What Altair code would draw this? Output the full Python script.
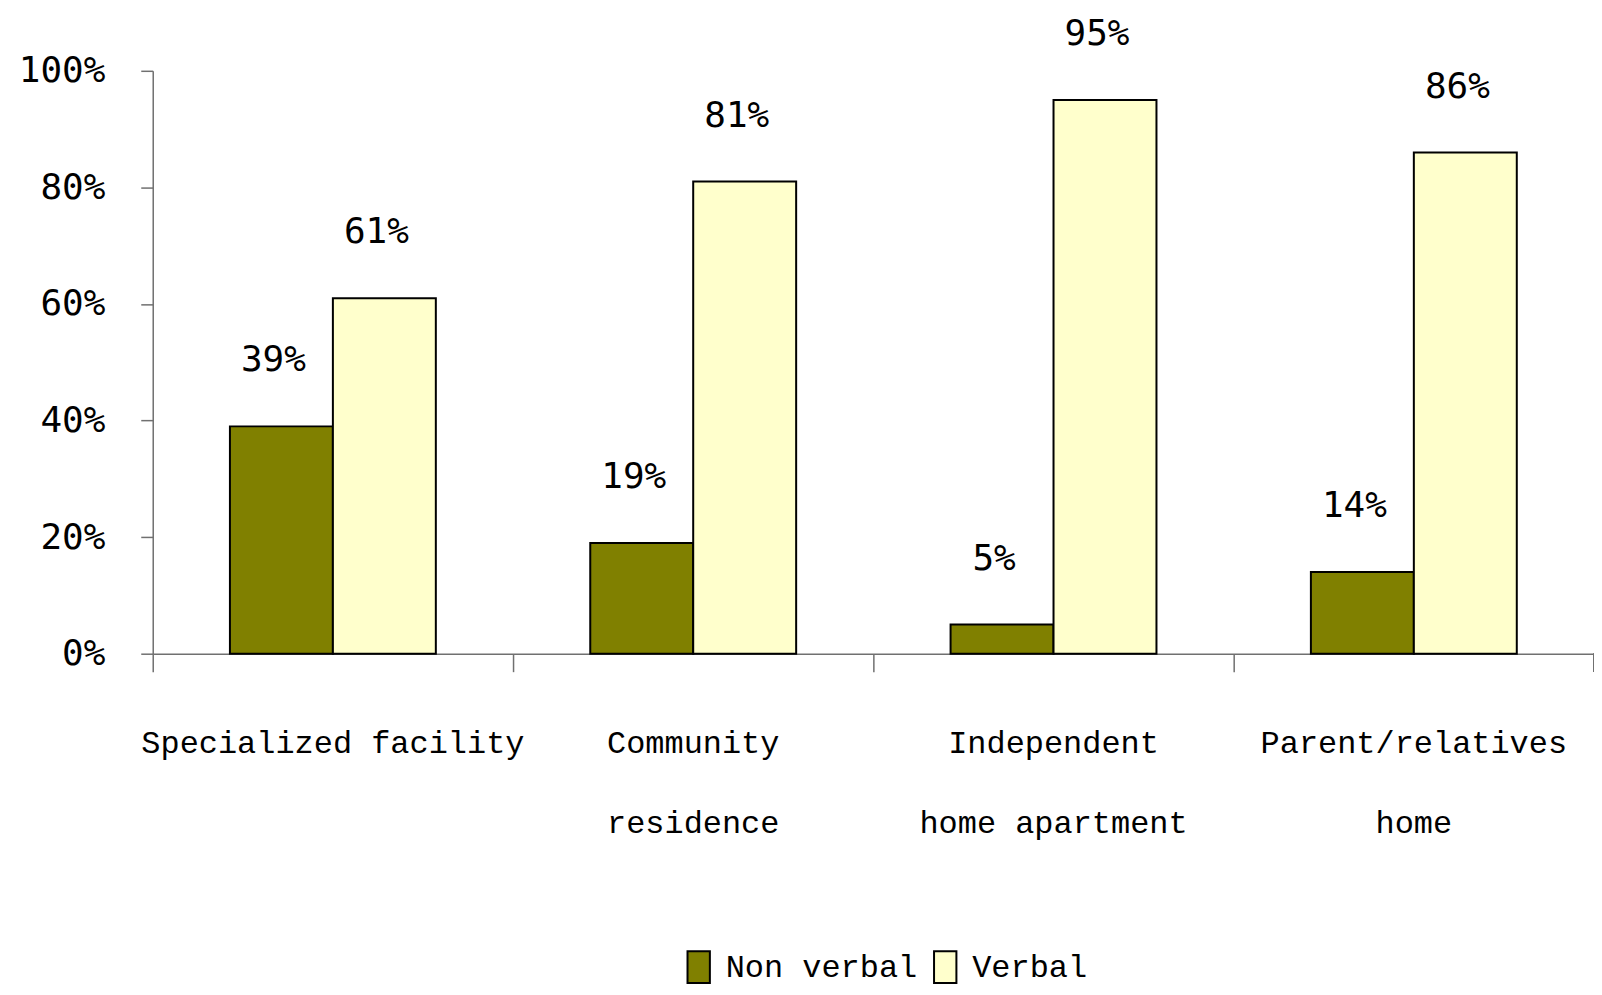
import altair as alt
import pandas as pd

categories = ["Specialized facility", "Community residence", "Independent home apartment", "Parent/relatives home"]
label_lines = [["Specialized facility"], ["Community", "residence"], ["Independent", "home apartment"], ["Parent/relatives", "home"]]
series = ["Non verbal", "Verbal"]
non_verbal = [39, 19, 5, 14]
verbal = [61, 81, 95, 86]
y_ticks = [0, 0.2, 0.4, 0.6, 0.8, 1.0]
colors = ["#808000", "#FFFFCC"]

rows = []
for i, c in enumerate(categories):
    rows.append({"category": c, "group": series[0], "value": non_verbal[i] / 100, "label": f"{non_verbal[i]}%"})
    rows.append({"category": c, "group": series[1], "value": verbal[i] / 100, "label": f"{verbal[i]}%"})
df = pd.DataFrame(rows)

expr = "''"
for c, lines in reversed(list(zip(categories, label_lines))):
    arr = "[" + ",".join("'" + l + "'" for l in lines) + "]"
    expr = f"datum.value == '{c}' ? {arr} : ({expr})"

W, H = 1444, 584
axis_color = "#707070"

x_enc = alt.X(
    "category:N", sort=categories,
    scale=alt.Scale(paddingInner=0, paddingOuter=0),
    axis=alt.Axis(title=None, labelAngle=0, bandPosition=0, grid=False,
                  tickSize=18, tickColor=axis_color, tickWidth=1.5,
                  domainColor=axis_color, domainWidth=1.5,
                  labelExpr=expr, labelFont="Liberation Mono", labelFontSize=32,
                  labelLineHeight=80, labelBaseline="top", labelPadding=56, labelLimit=0,
                  labelColor="black", labelAlign="center"),
)
y_enc = alt.Y(
    "value:Q", scale=alt.Scale(domain=[0, 1]),
    axis=alt.Axis(title=None, values=y_ticks, format="%", grid=False,
                  tickSize=12, tickColor=axis_color, tickWidth=1.5,
                  domainColor=axis_color, domainWidth=1.5,
                  labelFont="DejaVu Sans Mono", labelFontSize=36, labelPadding=36,
                  labelColor="black"),
)
xo = alt.XOffset("group:N", sort=series, scale=alt.Scale(paddingInner=0, paddingOuter=0.75))

bars = alt.Chart(df).mark_bar(stroke="black", strokeWidth=2).encode(
    x=x_enc, y=y_enc, xOffset=xo,
    color=alt.Color("group:N", sort=series, scale=alt.Scale(domain=series, range=colors),
                    legend=alt.Legend(title=None, orient="none", legendX=530, legendY=881,
                                      direction="horizontal",
                                      symbolType="M-0.7,-1H0.7V1H-0.7Z", symbolSize=1024,
                                      symbolStrokeColor="black", symbolStrokeWidth=2,
                                      labelFont="Liberation Mono", labelFontSize=32, labelLimit=0,
                                      labelColor="black", labelOffset=10, columnPadding=10)),
)

text = alt.Chart(df).mark_text(dy=-66, dx=-8, font="DejaVu Sans Mono", fontSize=36,
                               baseline="middle", color="black").encode(
    x=alt.X("category:N", sort=categories), y=alt.Y("value:Q"), xOffset=xo, text="label:N"
)

end_tick = alt.Chart(df).mark_rule(color=axis_color, strokeWidth=1.5).encode(
    x=alt.value(W), y=alt.value(H), y2=alt.value(H + 18)
)

chart = alt.layer(bars, text, end_tick).properties(
    width=W, height=H, background="white",
    padding={"left": 145, "top": 62, "right": 0, "bottom": 333},
    autosize=alt.AutoSizeParams(type="none"),
).configure_view(strokeWidth=0, stroke=None)

chart.save("out.html", embed_options={"renderer": "svg", "actions": False})
